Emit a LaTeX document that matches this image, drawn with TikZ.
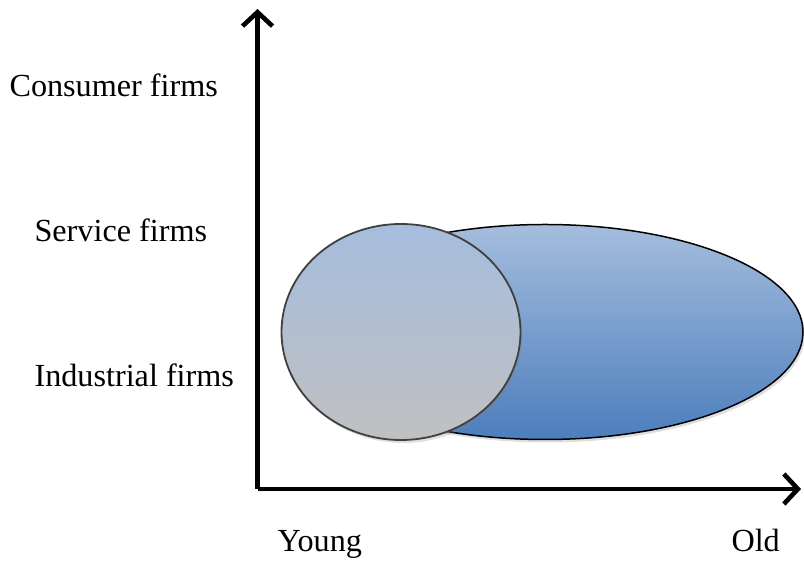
\documentclass[tikz,border=0pt]{standalone}
\usepackage{fontspec}
\setmainfont{Liberation Serif}
\usetikzlibrary{arrows.meta,shapes.geometric,shadows}
\definecolor{lightblue}{RGB}{165,189,221}
\definecolor{midblue}{RGB}{132,163,208}
\definecolor{darkblue}{RGB}{76,126,189}
\definecolor{lightgray}{RGB}{192,192,193}
\begin{document}
\begin{tikzpicture}
        [
           x=1pt, y=1pt,
           every node/.style={font=\fontsize{32.2}{36}\selectfont},
           axis/.style={line width=4.6pt, -{Straight Barb[length=14pt,width=30pt]},
                        drop shadow={shadow xshift=2pt,shadow yshift=-3pt,opacity=0.25}},
           blob/.style={ellipse, inner sep=0pt,
                        drop shadow={shadow xshift=2pt,shadow yshift=-3pt,opacity=0.25}}
        ]
        \useasboundingbox (0,0) rectangle (804,567);
        % axes
        \coordinate (origin) at (257.5,78);
        \coordinate (ytip) at (257.5,558);
        \coordinate (xtip) at (801,78);
        \draw[axis] (origin) -- (ytip);
        \draw[axis] (origin) -- (xtip);
        % the two groups
        \node[blob, draw=black, line width=1.5pt, top color=lightblue, middle color=midblue,
              bottom color=darkblue, minimum width=516pt, minimum height=215pt] (old) at (545,235) {};
        \node[blob, draw=black!75, line width=1.8pt, top color=lightblue, bottom color=lightgray,
              minimum width=239pt, minimum height=216pt] (young) at (401,235) {};
        % labels
        \node[anchor=west] (consumer) at (6,482) {Consumer firms};
        \node[anchor=west] (service) at (31,337) {Service firms};
        \node[anchor=west] (industrial) at (31,192) {Industrial firms};
        \node[anchor=base west] (younglabel) at (274,15) {Young};
        \node[anchor=base west] (oldlabel) at (728,15) {Old};
    \end{tikzpicture}
\end{document}
